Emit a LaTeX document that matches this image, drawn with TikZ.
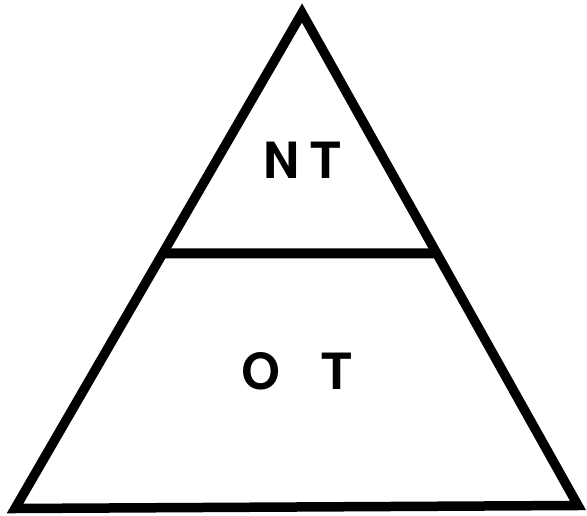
\documentclass[tikz,border=0pt]{standalone}
\usepackage{fontspec}
\setmainfont{TeX Gyre Heros}
\usetikzlibrary{calc}

\begin{document}
\begin{tikzpicture}[
    x=1pt, y=1pt,
    edge/.style={line width=9.5pt, line join=miter},
    label/.style={font=\fontsize{50}{50}\selectfont\bfseries, inner sep=0pt}
]
    \useasboundingbox (0,0) rectangle (587,515);
    \coordinate (apex) at (302,502);
    \coordinate (bl) at (15,6.5);
    \coordinate (br) at (578,9.5);
    \coordinate (ml) at ($(apex)!0.485!(bl)$);
    \coordinate (mr) at ($(apex)!0.488!(br)$);

    \draw[edge] (apex) -- (bl) -- (br) -- cycle;
    \draw[edge, line width=10pt] (ml) -- (mr);

    \node[label] (NT) at (302,355) {N\hspace{11pt}T};
    \node[label] (OT) at (297,144) {O\hspace{27pt} T};
\end{tikzpicture}
\end{document}
